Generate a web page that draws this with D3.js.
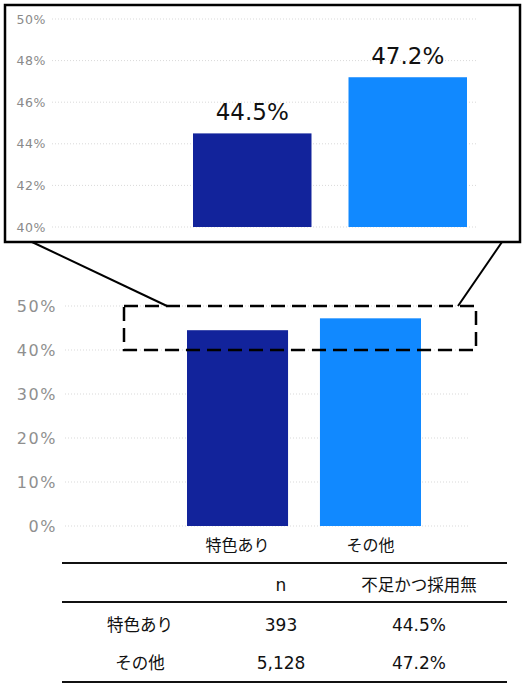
<!DOCTYPE html>
<html>
<head>
<meta charset="utf-8">
<script src="https://cdn.jsdelivr.net/npm/d3@7"></script>
<style>
  html, body { margin: 0; padding: 0; background: #fff; }
  svg { display: block; }
</style>
</head>
<body>
<svg id="chart" width="527" height="684"></svg>
<script>
// ---- data ----
const categories = ["特色あり", "その他"];
const values = [0.445, 0.472];
const nCounts = [393, 5128];
const colors = ["#12239b", "#1189ff"];
const mainTicks = [0, 0.1, 0.2, 0.3, 0.4, 0.5];
const insetTicks = [0.40, 0.42, 0.44, 0.46, 0.48, 0.50];
const tableHeader = ["", "n", "不足かつ採用無"];

const svg = d3.select("#chart");
const pct0 = d3.format(".0%");
const pct1 = d3.format(".1%");
const comma = d3.format(",");
const CJK = "'Noto Sans CJK JP', 'Noto Sans', sans-serif";
const LAT = "'DejaVu Sans', 'Noto Sans CJK JP', sans-serif";

// ---- inset (zoomed) chart ----
const yIn = d3.scaleLinear().domain([0.40, 0.50]).range([227, 19]);
const xIn = d3.scaleBand().domain(categories).range([193, 467]).paddingInner(0.238).paddingOuter(0);

const inset = svg.append("g");
inset.append("g").selectAll("line").data(insetTicks).join("line")
  .attr("x1", 52).attr("x2", 478)
  .attr("y1", d => yIn(d)).attr("y2", d => yIn(d))
  .attr("stroke", "#d9d9d9").attr("stroke-width", 1).attr("stroke-dasharray", "1,2");

const yInAxis = d3.axisLeft(yIn).tickValues(insetTicks).tickFormat(pct0).tickSize(0).tickPadding(0);
const gyIn = inset.append("g").attr("transform", "translate(46,0)").call(yInAxis);
gyIn.select(".domain").remove();
gyIn.selectAll("text").attr("fill", "#8a8a8a").attr("font-family", LAT)
  .attr("font-size", "12.5px").attr("letter-spacing", "0.6px");

inset.append("g").selectAll("rect").data(values).join("rect")
  .attr("x", (d, i) => xIn(categories[i]))
  .attr("width", xIn.bandwidth())
  .attr("y", d => yIn(d))
  .attr("height", d => yIn(0.40) - yIn(d))
  .attr("fill", (d, i) => colors[i]);

inset.append("g").selectAll("text").data(values).join("text")
  .attr("x", (d, i) => xIn(categories[i]) + xIn.bandwidth() / 2)
  .attr("y", d => yIn(d) - 13)
  .attr("text-anchor", "middle")
  .attr("font-family", LAT).attr("font-size", "23px").attr("fill", "#111")
  .text(d => pct1(d));

// inset frame
svg.append("rect").attr("x", 5).attr("y", 5).attr("width", 515).attr("height", 237)
  .attr("fill", "none").attr("stroke", "#000").attr("stroke-width", 2.5);

// ---- main chart ----
const y = d3.scaleLinear().domain([0, 0.5]).range([526, 306]);
const x = d3.scaleBand().domain(categories).range([187, 421]).paddingInner(0.24).paddingOuter(0);

const main = svg.append("g");
main.append("g").selectAll("line").data(mainTicks).join("line")
  .attr("x1", 65).attr("x2", 470)
  .attr("y1", d => y(d)).attr("y2", d => y(d))
  .attr("stroke", "#d9d9d9").attr("stroke-width", 1).attr("stroke-dasharray", "1,2");

const yAxis = d3.axisLeft(y).tickValues(mainTicks).tickFormat(pct0).tickSize(0).tickPadding(0);
const gy = main.append("g").attr("transform", "translate(57,0)").call(yAxis);
gy.select(".domain").remove();
gy.selectAll("text").attr("fill", "#8f8f8f").attr("font-family", LAT)
  .attr("font-size", "16px").attr("letter-spacing", "1.6px");

main.append("g").selectAll("rect").data(values).join("rect")
  .attr("x", (d, i) => x(categories[i]))
  .attr("width", x.bandwidth())
  .attr("y", d => y(d))
  .attr("height", d => y(0) - y(d))
  .attr("fill", (d, i) => colors[i]);

const xAxis = d3.axisBottom(x).tickSize(0).tickPadding(0);
const gx = main.append("g").attr("transform", "translate(0,540)").call(xAxis);
gx.select(".domain").remove();
gx.selectAll("text").attr("fill", "#111").attr("font-family", CJK).attr("font-size", "16px")
  .attr("dy", "0.71em").attr("y", 0);

// dashed zoom region
svg.append("rect")
  .attr("x", 124).attr("y", y(0.5))
  .attr("width", 352).attr("height", y(0.4) - y(0.5))
  .attr("fill", "none").attr("stroke", "#000").attr("stroke-width", 2.5)
  .attr("stroke-dasharray", "14,7");

// connector lines
svg.append("line").attr("x1", 32).attr("y1", 242).attr("x2", 167).attr("y2", y(0.5))
  .attr("stroke", "#000").attr("stroke-width", 2);
svg.append("line").attr("x1", 502).attr("y1", 242).attr("x2", 458).attr("y2", y(0.5))
  .attr("stroke", "#000").attr("stroke-width", 2);

// ---- table ----
const colX = [140, 281, 419];
const rowY = [585, 625, 663];
const ruleY = [563, 602, 682];
const table = svg.append("g");
table.selectAll("line").data(ruleY).join("line")
  .attr("x1", 62).attr("x2", 507).attr("y1", d => d).attr("y2", d => d)
  .attr("stroke", "#111").attr("stroke-width", 2);

const isCJK = s => /[\u3000-\u9fff]/.test(s);
const rows = [tableHeader].concat(categories.map((c, i) => [c, comma(nCounts[i]), pct1(values[i])]));
rows.forEach((r, ri) => {
  r.forEach((cell, ci) => {
    if (!cell) return;
    const cjk = isCJK(cell);
    table.append("text")
      .attr("x", colX[ci]).attr("y", rowY[ri])
      .attr("dy", "0.36em")
      .attr("text-anchor", "middle")
      .attr("font-family", cjk ? CJK : LAT)
      .attr("font-size", cjk ? "16.5px" : "17px")
      .attr("fill", "#111")
      .text(cell);
  });
});
</script>
</body>
</html>
